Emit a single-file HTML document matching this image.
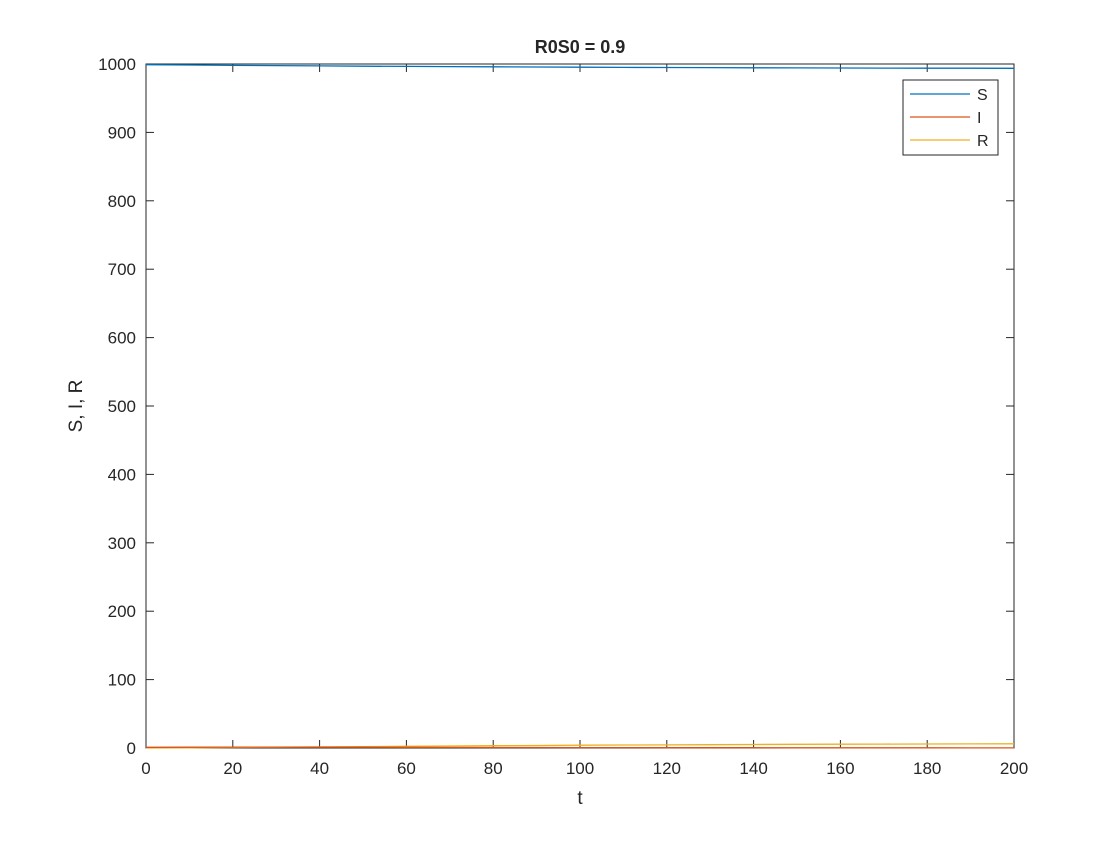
<!DOCTYPE html>
<html><head><meta charset="utf-8"><style>
body{margin:0;background:#fff;}
text{font-family:"Liberation Sans",Arial,sans-serif;fill:#262626;}
</style></head><body>
<svg width="1120" height="840">
<rect x="0" y="0" width="1120" height="840" fill="#fff"/>
<g id="plot"></g>
</svg>
<script>
const tVals=[0,10,20,30,40,50,60,70,80,90,100,110,120,130,140,150,160,170,180,190,200];
const sVals=[999,998.6,998,997.6,997.2,996.8,996.5,996.2,995.9,995.6,995.3,995.1,994.9,994.7,994.5,994.3,994.1,994.0,993.9,993.8,993.7];
const iVals=[1,1.2,1.3,1.3,1.2,1.1,1.0,0.9,0.8,0.7,0.6,0.55,0.5,0.45,0.4,0.35,0.3,0.27,0.24,0.21,0.19];
const rVals=[0,0.2,0.7,1.1,1.6,2.1,2.5,2.9,3.3,3.7,4.1,4.35,4.6,4.85,5.1,5.35,5.6,5.73,5.86,5.99,6.11];
const xTicks=[0,20,40,60,80,100,120,140,160,180,200];
const yTicks=[0,100,200,300,400,500,600,700,800,900,1000];
const L=146,R=1014,T=64,B=748;
const xs=v=>L+(v-0)/200*(R-L);
const ys=v=>B-(v/1000)*(B-T);
const NS="http://www.w3.org/2000/svg";
const g=document.getElementById('plot');
function mk(tag,attrs,txt){const e=document.createElementNS(NS,tag);for(const k in attrs)e.setAttribute(k,attrs[k]);if(txt!==undefined)e.textContent=txt;g.appendChild(e);return e;}
let e=mk('rect',{x:L,y:T,width:R-L,height:B-T,fill:'#fff',stroke:'#262626','stroke-width':1});


xTicks.forEach(v=>{const x=xs(v);
 let t1=mk('line',{x1:x,x2:x,y1:B,y2:B-8,stroke:'#262626'});
 
 
 let t2=mk('line',{x1:x,x2:x,y1:T,y2:T+8,stroke:'#262626'});
 
 
 let lb=mk('text',{x:x,y:B+26,'text-anchor':'middle','font-size':17},String(v));
 
 
});
yTicks.forEach(v=>{const y=ys(v);
 let t1=mk('line',{x1:L,x2:L+8,y1:y,y2:y,stroke:'#262626'});
 
 
 let t2=mk('line',{x1:R,x2:R-8,y1:y,y2:y,stroke:'#262626'});
 
 
 let lb=mk('text',{x:L-10,y:y+6,'text-anchor':'end','font-size':17},String(v));
 
 
});
function line(vals,color,name){
 const d=vals.map((v,i)=>(i?'L':'M')+xs(tVals[i]).toFixed(1)+','+ys(v).toFixed(1)).join(' ');
 const p=mk('path',{d:d,fill:'none',stroke:color,'stroke-width':1.3});
 
 
}
line(sVals,'#0072BD','series-s');
line(rVals,'#EDB120','series-r');
line(iVals,'#D95319','series-i');
let tt=mk('text',{x:580,y:53,'text-anchor':'middle','font-size':18,'font-weight':'bold'},'R0S0 = 0.9');


let xl=mk('text',{x:580,y:804,'text-anchor':'middle','font-size':19},'t');


let yl=mk('text',{x:82,y:406,'text-anchor':'middle','font-size':19,transform:'rotate(-90 82 406)'},'S, I, R');


let lg=mk('rect',{x:903,y:80,width:95,height:75,fill:'#fff',stroke:'#262626'});


[['S','#0072BD'],['I','#D95319'],['R','#EDB120']].forEach((s,i)=>{
 const y=94+i*23;
 let l=mk('line',{x1:910,x2:970,y1:y,y2:y,stroke:s[1],'stroke-width':1.3});
 
 
 let t=mk('text',{x:977,y:y+6,'font-size':16},s[0]);
 
 
});
</script>
</body></html>
